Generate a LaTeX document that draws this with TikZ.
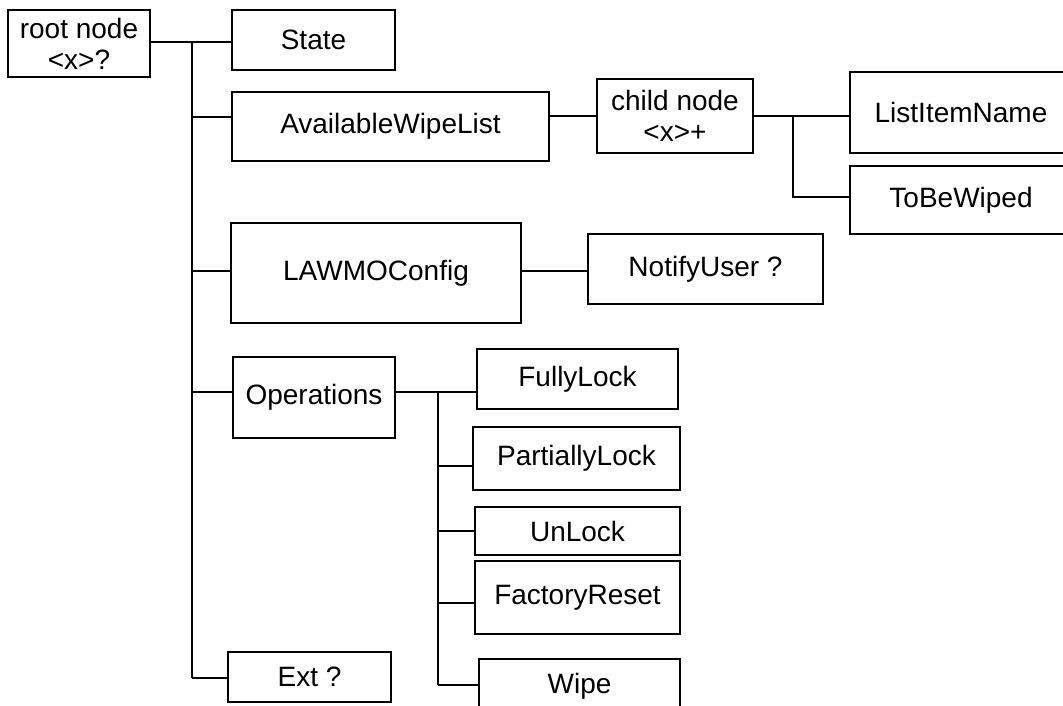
\documentclass[tikz,border=0pt]{standalone}
\usepackage{fontspec}
\setmainfont{Liberation Sans}
\tikzset{
  box/.style={shape=rectangle, draw, line width=2pt, align=center, inner sep=0pt},
  wire/.style={line width=2pt},
}
\begin{document}
\begin{tikzpicture}[x=1pt, y=-1pt, font=\fontsize{28}{34}\selectfont]
\useasboundingbox (0,0) rectangle (1063,706);
\clip (0,0) rectangle (1063,706);
\begin{scope}[nodes={box}]
  \node[minimum width=142, minimum height=67] (root)      at (  79,  43.5) {root node\\[-3pt]<x>?};
  \node[minimum width=163, minimum height=60] (state)     at ( 313.5, 40 ) {State};
  \node[minimum width=317, minimum height=69] (awl)       at ( 390.5,126.5) {AvailableWipeList};
  \node[minimum width=156, minimum height=74] (child)     at ( 675,  116 ) {child node\\[-3pt]<x>+};
  \node[minimum width=222, minimum height=81] (lin)       at ( 961,  112.5) {ListItemName};
  \node[minimum width=222, minimum height=68] (tbw)       at ( 961,  200 ) {ToBeWiped};
  \node[minimum width=290, minimum height=100] (lawmo)    at ( 376,  273 ) {LAWMOConfig};
  \node[minimum width=235, minimum height=70] (notify)    at ( 705.5,269 ) {NotifyUser ?};
  \node[minimum width=162, minimum height=81] (ops)       at ( 314,  397.5) {Operations};
  \node[minimum width=201, minimum height=60] (fully)     at ( 577.5,379 ) {FullyLock};
  \node[minimum width=207, minimum height=63] (partially) at ( 576.5,458.5) {PartiallyLock};
  \node[minimum width=205, minimum height=48] (unlock)    at ( 577.5,531 ) {UnLock};
  \node[minimum width=205, minimum height=73] (factory)   at ( 577.5,597.5) {FactoryReset};
  \node[minimum width=201, minimum height=54] (wipe)      at ( 579.5,686 ) {Wipe};
  \node[minimum width=163, minimum height=50] (ext)       at ( 309.5,677 ) {Ext ?};
\end{scope}
% branch points
\coordinate (r1) at (192,42);  \coordinate (r2) at (192,117);
\coordinate (r3) at (192,271); \coordinate (r4) at (192,392);
\coordinate (r5) at (192,678);
\coordinate (c1) at (793,116); \coordinate (c2) at (793,197);
\coordinate (o1) at (438,392); \coordinate (o2) at (438,466);
\coordinate (o3) at (438,531); \coordinate (o4) at (438,603);
\coordinate (o5) at (438,685);
\begin{scope}[wire]
  \draw (r1) -- (r5);
  \draw (root.east |- r1) -- (state.west |- r1);
  \foreach \j/\n in {r2/awl, r3/lawmo, r4/ops, r5/ext}
    \draw (\j) -- (\n.west |- \j);
  \draw (awl.east |- c1) -- (child.west |- c1);
  \draw (child.east |- c1) -- (lin.west |- c1);
  \draw (c1) -- (c2) -- (tbw.west |- c2);
  \draw (lawmo.east |- r3) -- (notify.west |- r3);
  \draw (ops.east |- o1) -- (fully.west |- o1);
  \draw (o1) -- (o5);
  \foreach \j/\n in {o2/partially, o3/unlock, o4/factory, o5/wipe}
    \draw (\j) -- (\n.west |- \j);
\end{scope}
\end{tikzpicture}
\end{document}
